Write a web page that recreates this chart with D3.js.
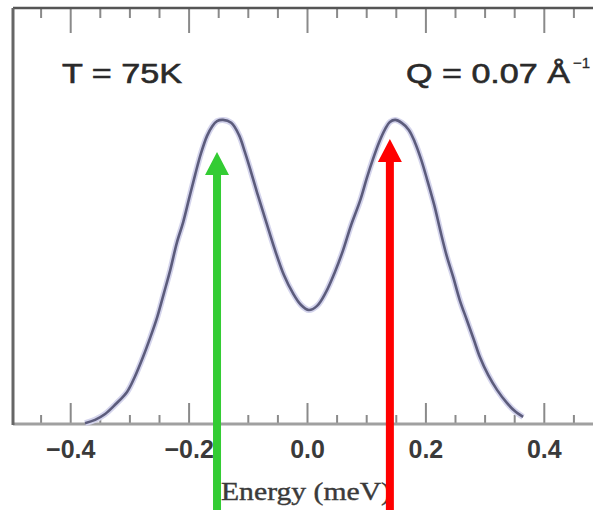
<!DOCTYPE html>
<html>
<head>
<meta charset="utf-8">
<script src="https://cdn.jsdelivr.net/npm/d3@7"></script>
<style>
  html, body { margin: 0; padding: 0; background: #fff; }
  svg { display: block; }
</style>
</head>
<body>
<svg id="chart" width="593" height="510"></svg>
<script>
// values (energy in meV, intensity in arb. units)
const energy = [-0.375, -0.358, -0.341, -0.323, -0.304, -0.291, -0.277, -0.265, -0.253, -0.242,
  -0.231, -0.220, -0.209, -0.199, -0.189, -0.179, -0.169, -0.160, -0.152, -0.142,
  -0.128, -0.115, -0.105, -0.095, -0.083, -0.069, -0.054, -0.039, -0.024, -0.010,
  0.003, 0.017, 0.032, 0.047, 0.061, 0.074, 0.090, 0.101, 0.111, 0.122,
  0.132, 0.140, 0.149, 0.160, 0.172, 0.182, 0.193, 0.203, 0.215, 0.225,
  0.236, 0.247, 0.258, 0.270, 0.282, 0.292, 0.306, 0.321, 0.338, 0.351, 0.365];
const intensity = [0.002, 0.010, 0.024, 0.048, 0.077, 0.113, 0.161, 0.207, 0.257, 0.313,
  0.370, 0.435, 0.486, 0.543, 0.599, 0.651, 0.692, 0.716, 0.728, 0.731,
  0.724, 0.695, 0.654, 0.608, 0.550, 0.486, 0.418, 0.358, 0.315, 0.286,
  0.274, 0.284, 0.317, 0.365, 0.418, 0.476, 0.538, 0.591, 0.635, 0.678,
  0.709, 0.726, 0.731, 0.724, 0.707, 0.678, 0.635, 0.587, 0.526, 0.466,
  0.404, 0.353, 0.298, 0.250, 0.202, 0.161, 0.118, 0.082, 0.050, 0.031, 0.017];

const majorTicks = [-0.4, -0.2, 0.0, 0.2, 0.4];
const minorTicks = [-0.45, -0.35, -0.3, -0.25, -0.15, -0.1, -0.05, 0.05, 0.1, 0.15, 0.25, 0.3, 0.35, 0.45];

// peak markers
const arrowEnergy = [-0.152, 0.140];
const arrowTip = [0.654, 0.685];
const arrowColor = ['#33cc33', '#ff0000'];

(function draw() {
  const svg = d3.select('#chart');
  const W = 593, H = 510;
  const plotLeft = 13, plotTop = 8, plotBottom = 424;

  const x = d3.scaleLinear().domain([-0.5, 0.5]).range([11, 603]);
  const y = d3.scaleLinear().domain([0, 1]).range([plotBottom, plotTop]);

  // bottom axis: inward ticks + labels
  const gB = svg.append('g').attr('transform', `translate(0,${plotBottom})`);
  gB.call(d3.axisBottom(x).tickValues(majorTicks).tickSize(-21).tickPadding(16).tickFormat(d3.format('.1f')));
  const gBm = svg.append('g').attr('transform', `translate(0,${plotBottom})`);
  gBm.call(d3.axisBottom(x).tickValues(minorTicks).tickSize(-9).tickFormat(''));

  // top axis: inward ticks, no labels
  const gT = svg.append('g').attr('transform', `translate(0,${plotTop})`);
  gT.call(d3.axisTop(x).tickValues(majorTicks).tickSize(-25).tickFormat(''));
  const gTm = svg.append('g').attr('transform', `translate(0,${plotTop})`);
  gTm.call(d3.axisTop(x).tickValues(minorTicks).tickSize(-10).tickFormat(''));

  svg.selectAll('.domain').remove();
  svg.selectAll('.tick line').attr('stroke', '#8a8a8a').attr('stroke-width', 2);
  gB.selectAll('.tick text')
    .attr('font-family', 'Liberation Sans, Arial, sans-serif')
    .attr('font-size', 25).attr('font-weight', 'bold').attr('fill', '#3a3a3a');

  // frame lines
  svg.append('line').attr('x1', plotLeft).attr('x2', W).attr('y1', plotTop).attr('y2', plotTop)
    .attr('stroke', '#555').attr('stroke-width', 2.5);
  svg.append('line').attr('x1', plotLeft).attr('x2', W).attr('y1', plotBottom).attr('y2', plotBottom)
    .attr('stroke', '#a0a0a0').attr('stroke-width', 3);
  svg.append('line').attr('x1', plotLeft).attr('x2', plotLeft).attr('y1', plotTop).attr('y2', plotBottom + 1)
    .attr('stroke', '#666').attr('stroke-width', 3);

  // curve
  const pts = energy.map((e, i) => [e, intensity[i]]);
  const line = d3.line().x(d => x(d[0])).y(d => y(d[1])).curve(d3.curveCatmullRom.alpha(0.5));
  svg.append('path').attr('d', line(pts)).attr('fill', 'none')
    .attr('stroke', '#d4d4ec').attr('stroke-width', 6);
  svg.append('path').attr('d', line(pts)).attr('fill', 'none')
    .attr('stroke', '#5c5c7c').attr('stroke-width', 2.6);

  // texts
  const label = (xp, yp, size, txt) => svg.append('text').attr('x', xp).attr('y', yp)
    .attr('font-family', 'Liberation Sans, Arial, sans-serif').attr('font-size', size)
    .attr('fill', '#2a2a2a').attr('stroke', '#2a2a2a').attr('stroke-width', 0.6).text(txt);
  label(62, 83, 28, 'T = 75K').attr('textLength', 120).attr('lengthAdjust', 'spacingAndGlyphs');
  label(406, 83, 28, 'Q = 0.07 Å').attr('textLength', 164).attr('lengthAdjust', 'spacingAndGlyphs');
  label(573, 68, 15, '−1').attr('stroke-width', 0.3);
  svg.append('text').attr('x', 306).attr('y', 500).attr('text-anchor', 'middle')
    .attr('font-family', 'Liberation Serif, Times New Roman, serif').attr('font-size', 25)
    .attr('fill', '#3a3a3a').attr('stroke', '#3a3a3a').attr('stroke-width', 0.4)
    .attr('textLength', 170).attr('lengthAdjust', 'spacingAndGlyphs')
    .text('Energy (meV)');

  // arrows
  const headLen = 23, headHalf = 12, shaftHalf = 4;
  svg.append('g').selectAll('path').data(arrowEnergy).enter().append('path')
    .attr('d', (e, i) => {
      const cx = x(e), ty = y(arrowTip[i]), by = ty + headLen;
      return `M${cx},${ty}L${cx + headHalf},${by}L${cx + shaftHalf},${by}L${cx + shaftHalf},${H}` +
        `L${cx - shaftHalf},${H}L${cx - shaftHalf},${by}L${cx - headHalf},${by}Z`;
    })
    .attr('fill', (e, i) => arrowColor[i]);
})();
</script>
</body>
</html>
